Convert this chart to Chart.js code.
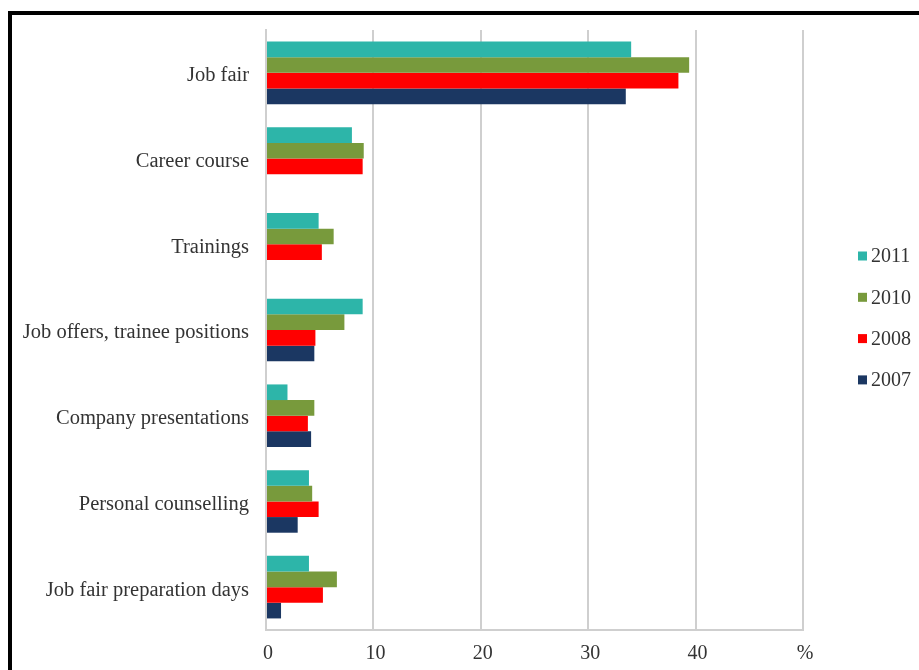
<!DOCTYPE html>
<html>
<head>
<meta charset="utf-8">
<script src="https://cdn.jsdelivr.net/npm/chart.js@4.4.1/dist/chart.umd.min.js"></script>
<style>
  html, body { margin: 0; padding: 0; background: #fff; }
  #wrap { position: relative; width: 919px; height: 670px; overflow: hidden; background: #fff; }
  #frame { position: absolute; left: 8px; top: 11px; width: 1000px; height: 1000px;
           border-left: 4px solid #000; border-top: 4px solid #000; box-sizing: border-box; }
  #c { position: absolute; left: 0; top: 0; }
</style>
</head>
<body>
<div id="wrap">
  <div id="frame"></div>
  <canvas id="c" width="919" height="670"></canvas>
</div>
<script>
// Activities offered, share of respondents (%) by survey year
const categories = [
  'Job fair',
  'Career course',
  'Trainings',
  'Job offers, trainee positions',
  'Company presentations',
  'Personal counselling',
  'Job fair preparation days'
];
const years = ['2011', '2010', '2008', '2007'];
const values2011 = [34.0, 8.0, 4.9, 9.0, 2.0, 4.0, 4.0];
const values2010 = [39.4, 9.1, 6.3, 7.3, 4.5, 4.3, 6.6];
const values2008 = [38.4, 9.0, 5.2, 4.6, 3.9, 4.9, 5.3];
const values2007 = [33.5, 0, 0, 4.5, 4.2, 2.95, 1.4];
const xTickLabels = ['0', '10', '20', '30', '40', '%'];

const colors = ['#2DB5A9', '#789A3C', '#FF0000', '#1B3762'];
const FONT = "'Liberation Serif', 'Times New Roman', serif";
const TEXT = '#333333';

// Vertical legend drawn to the right of the plot
const sideLegend = {
  id: 'sideLegend',
  afterDraw(chart) {
    const ctx = chart.ctx;
    ctx.save();
    ctx.font = '20px ' + FONT;
    ctx.textBaseline = 'middle';
    ctx.textAlign = 'left';
    chart.data.datasets.forEach((ds, i) => {
      const y = 256 + i * 41.3;
      ctx.fillStyle = ds.backgroundColor;
      ctx.fillRect(858, y - 4.5, 9, 9);
      ctx.fillStyle = TEXT;
      ctx.fillText(ds.label, 871, y + 1);
    });
    ctx.restore();
  }
};

const seriesValues = [values2011, values2010, values2008, values2007];

new Chart(document.getElementById('c'), {
  type: 'bar',
  data: {
    labels: categories,
    datasets: years.map((y, i) => ({
      label: y,
      data: seriesValues[i],
      backgroundColor: colors[i],
      borderWidth: 0,
      categoryPercentage: 0.73,
      barPercentage: 1.0
    }))
  },
  options: {
    indexAxis: 'y',
    responsive: false,
    animation: false,
    devicePixelRatio: 1,
    layout: { padding: { top: 30, right: 116, left: 0, bottom: 0 } },
    plugins: { legend: { display: false }, tooltip: { enabled: false } },
    scales: {
      x: {
        min: 0, max: 50,
        afterFit(scale) { scale.height = 40; },
        ticks: {
          stepSize: 10,
          padding: 12,
          labelOffset: 2,
          color: TEXT,
          font: { family: FONT, size: 20 },
          callback: (v, i) => xTickLabels[i]
        },
        grid: { color: '#CFCFCF', lineWidth: 2, drawTicks: false },
        border: { display: true, color: '#CFCFCF', width: 2 }
      },
      y: {
        afterFit(scale) { scale.width = 266; },
        ticks: {
          padding: 17,
          labelOffset: 3,
          color: TEXT,
          font: { family: FONT, size: 20.5 }
        },
        grid: { display: false, drawTicks: false },
        border: { display: true, color: '#CFCFCF', width: 2 }
      }
    }
  },
  plugins: [sideLegend]
});
</script>
</body>
</html>
